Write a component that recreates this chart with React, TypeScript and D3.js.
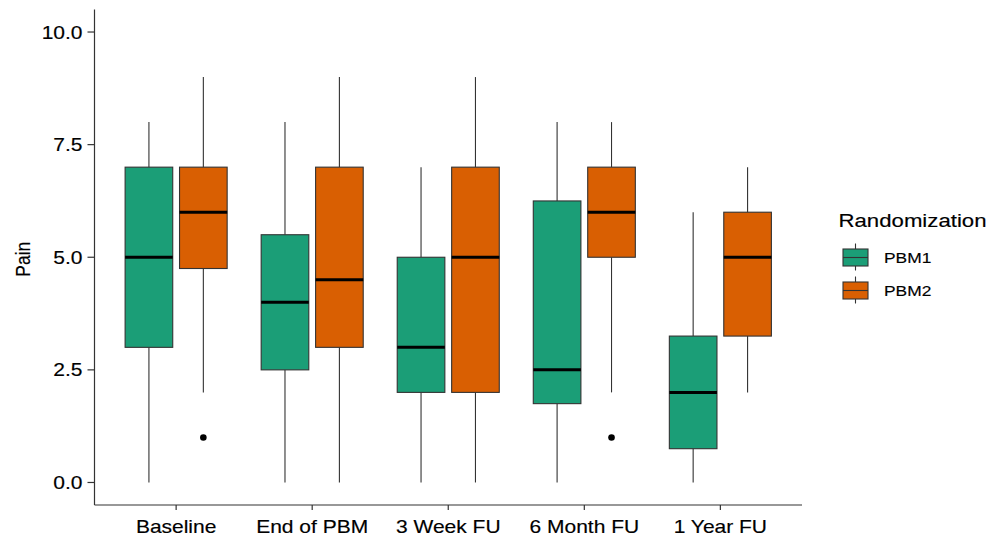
import * as d3 from "d3";
import React from "react";

const categories = ["Baseline", "End of PBM", "3 Week FU", "6 Month FU", "1 Year FU"];
const groups = ["PBM1", "PBM2"];
const groupColors = ["#1B9E77", "#D95F02"];

const pbm1Min = [0, 0, 0, 0, 0];
const pbm1Q1 = [3, 2.5, 2, 1.75, 0.75];
const pbm1Med = [5, 4, 3, 2.5, 2];
const pbm1Q3 = [7, 5.5, 5, 6.25, 3.25];
const pbm1Max = [8, 8, 7, 8, 6];
const pbm1Out: number[][] = [[], [], [], [], []];

const pbm2Min = [2, 0, 0, 2, 2];
const pbm2Q1 = [4.75, 3, 2, 5, 3.25];
const pbm2Med = [6, 4.5, 5, 6, 5];
const pbm2Q3 = [7, 7, 7, 7, 6];
const pbm2Max = [9, 9, 9, 8, 7];
const pbm2Out: number[][] = [[1], [], [], [1], []];

const yTicks = [0, 2.5, 5, 7.5, 10];
const yTickLabels = ["0.0", "2.5", "5.0", "7.5", "10.0"];

const stats = [
  { min: pbm1Min, q1: pbm1Q1, med: pbm1Med, q3: pbm1Q3, max: pbm1Max, out: pbm1Out },
  { min: pbm2Min, q1: pbm2Q1, med: pbm2Med, q3: pbm2Q3, max: pbm2Max, out: pbm2Out },
];

const FONT = "'Liberation Sans', Arial, sans-serif";
const SX = 1.2; // reference is stretched horizontally

// text drawn with a horizontal stretch
const T: React.FC<{ x: number; y: number; size: number; anchor?: string; rotate?: number; children: React.ReactNode }> =
  ({ x, y, size, anchor = "start", rotate = 0, children }) => (
    <text transform={`translate(${x},${y}) scale(${SX},1) rotate(${rotate})`} textAnchor={anchor}
      fontFamily={FONT} fontSize={size} fill="#000" stroke="#000" strokeWidth={0.15}>{children}</text>
  );

export default function App() {
  const W = 1003, H = 538;
  const m = { left: 94.5, right: 802, top: 9.5, bottom: 505 };

  const x = d3.scaleLinear().domain([-0.6, categories.length - 1 + 0.6]).range([m.left, m.right]);
  const y = d3.scaleLinear().domain([-0.5, 10.5]).range([m.bottom, m.top]);
  const unit = x(1) - x(0);
  const boxW = 0.35 * unit;
  const offsets = [-0.2, 0.2];

  return (
    <svg width={W} height={H} style={{ position: "absolute", left: 0, top: 0, background: "#fff" }}>
      {/* boxes */}
      {categories.map((c, i) => (
        <g key={c}>
          {stats.map((s, g) => {
            const cx = x(i + offsets[g]);
            return (
              <g key={g}>
                <line x1={cx} x2={cx} y1={y(s.q3[i])} y2={y(s.max[i])} stroke="#333" strokeWidth={1.1} />
                <line x1={cx} x2={cx} y1={y(s.q1[i])} y2={y(s.min[i])} stroke="#333" strokeWidth={1.1} />
                <rect x={cx - boxW / 2} y={y(s.q3[i])} width={boxW} height={y(s.q1[i]) - y(s.q3[i])}
                  fill={groupColors[g]} stroke="#333" strokeWidth={1.1} />
                <line x1={cx - boxW / 2} x2={cx + boxW / 2} y1={y(s.med[i])} y2={y(s.med[i])} stroke="#000" strokeWidth={3} />
                {s.out[i].map((o, k) => (
                  <circle key={k} cx={cx} cy={y(o)} r={3.3} fill="#000" />
                ))}
              </g>
            );
          })}
        </g>
      ))}

      {/* y axis */}
      <line x1={m.left} x2={m.left} y1={m.top} y2={m.bottom} stroke="#333" strokeWidth={1.2} />
      {yTicks.map((t, i) => (
        <g key={t}>
          <line x1={m.left - 7} x2={m.left} y1={y(t)} y2={y(t)} stroke="#333" strokeWidth={1.2} />
          <T x={m.left - 12} y={y(t) + 6.5} size={17.5} anchor="end">{yTickLabels[i]}</T>
        </g>
      ))}
      <T x={30} y={(m.top + m.bottom) / 2 + 2} size={17.5} anchor="middle" rotate={-90}>Pain</T>

      {/* x axis */}
      <line x1={m.left} x2={m.right} y1={m.bottom} y2={m.bottom} stroke="#333" strokeWidth={1.2} />
      {categories.map((c, i) => (
        <g key={c}>
          <line x1={x(i)} x2={x(i)} y1={m.bottom} y2={m.bottom + 5} stroke="#333" strokeWidth={1.2} />
          <T x={x(i)} y={533} size={17.5} anchor="middle">{c}</T>
        </g>
      ))}

      {/* legend */}
      <T x={838.5} y={227} size={18.5}>Randomization</T>
      {groups.map((gname, g) => {
        const cy = 257.5 + g * 33;
        const lx = 855.5;
        return (
          <g key={gname}>
            <line x1={lx} x2={lx} y1={cy - 14} y2={cy + 13} stroke="#333" strokeWidth={1.1} />
            <rect x={lx - 12.5} y={cy - 8.5} width={25} height={17} fill={groupColors[g]} stroke="#333" strokeWidth={1.1} />
            <line x1={lx - 12.5} x2={lx + 12.5} y1={cy} y2={cy} stroke="#333" strokeWidth={1.1} />
            <T x={884} y={cy + 5.8} size={14.5}>{gname}</T>
          </g>
        );
      })}
    </svg>
  );
}
